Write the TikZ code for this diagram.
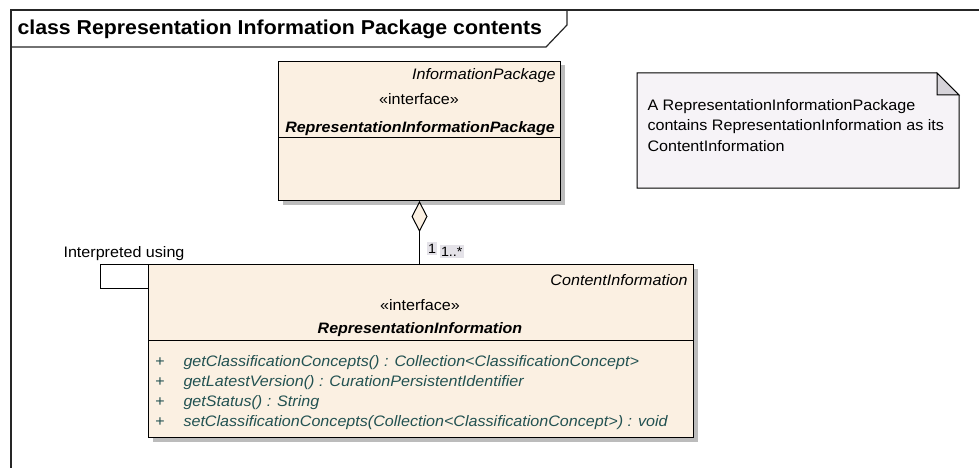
\documentclass[tikz,border=0pt]{standalone}
\usepackage{fontspec}
\setmainfont{Liberation Sans}[FakeStretch=1.06]
\usetikzlibrary{arrows.meta,shadows}
\definecolor{classfill}{RGB}{251,240,226}
\definecolor{notefill}{RGB}{246,243,247}
\definecolor{earfill}{RGB}{214,211,217}
\definecolor{shadowgray}{RGB}{188,188,188}
\definecolor{methodcol}{RGB}{35,82,82}
\definecolor{labelbg}{RGB}{228,226,232}
\begin{document}
\begin{tikzpicture}[x=1pt,y=-1pt,line width=1pt,
  classbox/.style={draw=black,fill=classfill,line width=1pt,inner sep=0pt,anchor=north west,
    drop shadow={shadow xshift=4pt,shadow yshift=-4pt,fill=shadowgray,opacity=1}},
  txt/.style={inner sep=0pt,font=\fontsize{15.2}{18}\selectfont},
  itxt/.style={txt,font=\fontsize{15.2}{18}\selectfont\itshape},
  nametxt/.style={inner sep=0pt,font=\fontsize{15.1}{18}\selectfont\bfseries\itshape},
  methtxt/.style={inner sep=0pt,text=methodcol,font=\fontsize{15.2}{18}\selectfont\itshape},
  plustxt/.style={inner sep=0pt,text=methodcol,font=\fontsize{15.2}{18}\selectfont},
  multlabel/.style={fill=labelbg,inner sep=1.5pt,font=\fontsize{13.5}{16}\selectfont},
  framestyle/.style={draw=black!85,line width=1.2pt}]
\useasboundingbox (0,0) rectangle (979,468);

% frame
\draw[framestyle] (11,468) -- (11,10) -- (979,10);
\draw[framestyle] (11,47) -- (546,47) -- (567,25) -- (567,10);
\node[inner sep=0pt,anchor=base west,font=\fontsize{20.1}{23}\selectfont\bfseries] (title) at (17,35) {class Representation Information Package contents};

% top class
\node[classbox,minimum width=282pt,minimum height=139pt] (ip) at (278,61) {};
\draw (ip.west |- 0,137) -- (ip.east |- 0,137);
\node[itxt,anchor=base east] (ipparent) at (556,80) {InformationPackage};
\node[txt,anchor=base] (ipster) at (419,105) {«interface»};
\node[nametxt,anchor=base] (ipname) at (420,132) {RepresentationInformationPackage};

% bottom class
\node[classbox,minimum width=545pt,minimum height=173pt] (ri) at (148,264) {};
\draw (ri.west |- 0,340) -- (ri.east |- 0,340);
\node[itxt,anchor=base east] (riparent) at (688,285) {ContentInformation};
\node[txt,anchor=base] (rister) at (420,310) {«interface»};
\node[nametxt,anchor=base] (riname) at (420,333) {RepresentationInformation};
\node[plustxt,anchor=base] (p1) at (160,366) {+};
\node[plustxt,anchor=base] (p2) at (160,386) {+};
\node[plustxt,anchor=base] (p3) at (160,406) {+};
\node[plustxt,anchor=base] (p4) at (160,426) {+};
\node[methtxt,anchor=base west] (m1) at (183,366) {getClassificationConcepts() : Collection<ClassificationConcept>};
\node[methtxt,anchor=base west] (m2) at (183,386) {getLatestVersion() : CurationPersistentIdentifier};
\node[methtxt,anchor=base west] (m3) at (183,406) {getStatus() : String};
\node[methtxt,anchor=base west] (m4) at (183,426) {setClassificationConcepts(Collection<ClassificationConcept>) : void};

% aggregation
\draw[-{Diamond[length=31pt,width=16pt,fill=classfill,line width=1pt]}] (ri.north -| ip.south) -- (ip.south);
\node[multlabel,anchor=base west] (l1) at (426,253) {1};
\node[multlabel,anchor=base west] (l2) at (439,256) {1..*};

% self association
\draw (ri.north west) -- ++(-48,0) |- ([yshift=-24pt]ri.north west);
\node[txt,anchor=base] (selflabel) at (124,257) {Interpreted using};

% note
\draw[fill=notefill,line width=1pt] (637,73) -- (937,73) -- (959,95) -- (959,188) -- (637,188) -- cycle;
\draw[fill=earfill,line width=1pt] (937,73) -- (937,95) -- (959,95) -- cycle;
\node[txt,anchor=base west] (n1) at (647,111) {A RepresentationInformationPackage};
\node[txt,anchor=base west] (n2) at (647,131) {contains RepresentationInformation as its};
\node[txt,anchor=base west] (n3) at (647,151) {ContentInformation};
\end{tikzpicture}
\end{document}
